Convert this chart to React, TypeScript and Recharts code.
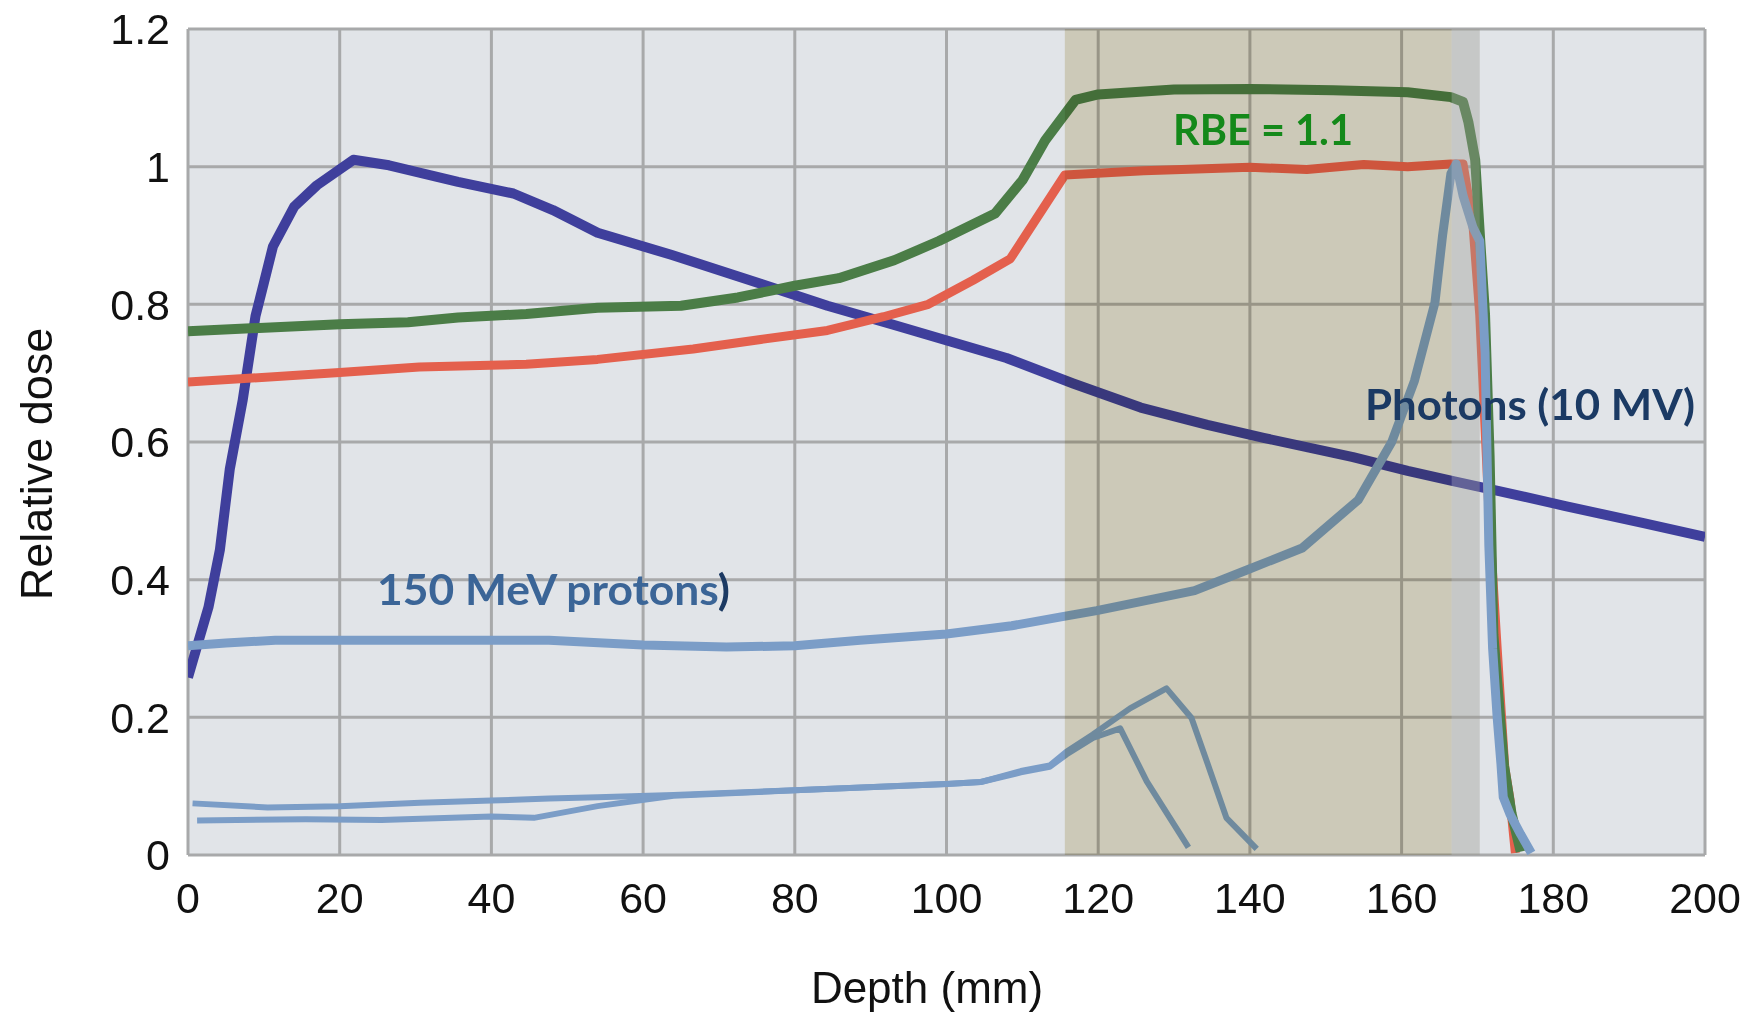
import React from "react";
import {
  LineChart,
  Line,
  XAxis,
  YAxis,
  CartesianGrid,
  ReferenceArea,
} from "recharts";

// ---------- ticks ----------
const depthTicks = [0, 20, 40, 60, 80, 100, 120, 140, 160, 180, 200];
const doseTicks = [0, 0.2, 0.4, 0.6, 0.8, 1, 1.2];

// ---------- photons (10 MV) ----------
const photonDepth = [0, 2.7, 4.2, 5.5, 7.2, 8.9, 10, 11.2, 14, 17, 21.8, 26.5, 35.6, 42.9, 48.1, 54, 63.7, 75.5, 84.3, 93.1, 100.5, 107.9, 116.7, 125.6, 134.4, 141.8, 153.6, 160.8, 166.8, 172.7, 181.6, 191.9, 200];
const photonDose = [0.258, 0.36, 0.443, 0.56, 0.66, 0.783, 0.831, 0.884, 0.942, 0.973, 1.01, 1.002, 0.978, 0.961, 0.937, 0.904, 0.872, 0.83, 0.798, 0.77, 0.746, 0.722, 0.685, 0.65, 0.625, 0.606, 0.578, 0.558, 0.543, 0.529, 0.507, 0.482, 0.462];

// ---------- protons, RBE = 1.1 (green) ----------
const rbeDepth = [0, 20, 29, 35.6, 44.6, 54, 65, 72.5, 80, 85.8, 93.1, 99, 106.4, 110, 113, 117, 120, 130, 140, 151, 160.8, 166.5, 168.1, 168.8, 169.7, 170.4, 171, 171.6, 172.1, 173.5, 174.5, 175.7];
const rbeDose = [0.761, 0.771, 0.774, 0.781, 0.786, 0.795, 0.798, 0.81, 0.827, 0.838, 0.864, 0.892, 0.932, 0.98, 1.038, 1.097, 1.105, 1.112, 1.113, 1.111, 1.108, 1.101, 1.094, 1.065, 1.01, 0.887, 0.785, 0.58, 0.32, 0.13, 0.06, 0.005];

// ---------- protons, physical dose (red) ----------
const physDepth = [0, 20, 30.5, 44.6, 54, 66.6, 75.5, 84.3, 91.7, 97.6, 103.5, 108.4, 115.6, 126, 140, 147.5, 155, 160.8, 166.5, 168.1, 169.4, 170.3, 171.6, 172.6, 173.6, 174.3, 175];
const physDose = [0.687, 0.701, 0.709, 0.713, 0.72, 0.735, 0.749, 0.762, 0.782, 0.8, 0.835, 0.866, 0.988, 0.994, 0.999, 0.996, 1.003, 1.0, 1.004, 1.004, 0.917, 0.785, 0.48, 0.3, 0.127, 0.08, 0.003];

// ---------- 150 MeV protons, SOBP-like curve (light blue) ----------
const protonDepth = [0, 5, 11.5, 20, 35, 47.6, 60, 71, 80, 88.6, 100, 108.6, 115.1, 119.8, 132.7, 139.6, 146.9, 154.3, 158.7, 161.7, 164.4, 165.4, 166.5, 167.2, 168.1, 169.4, 170.3, 171, 171.5, 172, 172.6, 173.1, 173.4, 174.3, 175.7, 177.1];
const protonDose = [0.304, 0.308, 0.312, 0.312, 0.312, 0.312, 0.305, 0.302, 0.304, 0.312, 0.321, 0.333, 0.346, 0.355, 0.384, 0.414, 0.446, 0.516, 0.6, 0.689, 0.803, 0.9, 0.99, 1.004, 0.958, 0.912, 0.892, 0.73, 0.45, 0.3, 0.2, 0.132, 0.084, 0.059, 0.03, 0.003];

// ---------- single Bragg peaks (thin light blue) ----------
const peakADepth = [0.6, 10.5, 20, 30.6, 40, 47.6, 54, 64, 80, 100, 104.5, 109.8, 113.6, 115.8, 119.3, 124.2, 129, 132.3, 134.7, 136.9, 140.9];
const peakADose = [0.075, 0.069, 0.071, 0.076, 0.079, 0.082, 0.084, 0.087, 0.094, 0.103, 0.106, 0.122, 0.13, 0.15, 0.175, 0.213, 0.242, 0.199, 0.124, 0.054, 0.009];
const peakBDepth = [1.2, 15.5, 25.5, 40, 45.6, 54, 64, 80, 100, 104.5, 109.8, 113.6, 115.8, 119.3, 122.9, 126.4, 131.9];
const peakBDose = [0.05, 0.052, 0.051, 0.056, 0.054, 0.071, 0.086, 0.094, 0.103, 0.106, 0.12, 0.128, 0.146, 0.17, 0.184, 0.107, 0.011];

// ---------- shaded ranges ----------
const targetRange = [115.6, 166.6];
const edgeRange = [166.6, 170.3];

const toPoints = (xs: number[], ys: number[]) =>
  xs.map((x, i) => ({ depth: x, dose: ys[i] }));

const tickStyle = { fontFamily: "'Liberation Sans', Arial, sans-serif", fontSize: 43, fill: "#111" };

export default function App() {
  return (
    <div style={{ position: "absolute", left: 0, top: 0, width: 1753, height: 1015, background: "#fff" }}>
      <style>{`.tan-band .recharts-reference-area-rect{mix-blend-mode:multiply;}`}</style>
      <LineChart
        width={1753}
        height={1015}
        margin={{ top: 29, right: 48, bottom: 100, left: 88 }}
      >
        <CartesianGrid
          stroke="#a8a9aa"
          strokeWidth={3}
          fill="#e1e4e8"
          fillOpacity={1}
          horizontalValues={doseTicks}
          verticalValues={depthTicks}
        />
        <XAxis
          dataKey="depth"
          type="number"
          domain={[0, 200]}
          ticks={depthTicks}
          allowDataOverflow
          axisLine={false}
          tickLine={false}
          tickSize={0}
          tickMargin={27}
          height={60}
          tick={tickStyle}
          interval={0}
        />
        <YAxis
          type="number"
          domain={[0, 1.2]}
          ticks={doseTicks}
          allowDataOverflow
          axisLine={false}
          tickLine={false}
          tickSize={0}
          tickMargin={18}
          width={100}
          tick={tickStyle}
          interval={0}
        />
        <Line data={toPoints(photonDepth, photonDose)} dataKey="dose" type="linear" dot={false} activeDot={false} stroke="#3f3f9c" strokeWidth={10} strokeLinejoin="round" isAnimationActive={false} />
        <Line data={toPoints(physDepth, physDose)} dataKey="dose" type="linear" dot={false} activeDot={false} stroke="#e4604d" strokeWidth={9} strokeLinejoin="round" isAnimationActive={false} />
        <Line data={toPoints(rbeDepth, rbeDose)} dataKey="dose" type="linear" dot={false} activeDot={false} stroke="#4b7d47" strokeWidth={10} strokeLinejoin="round" isAnimationActive={false} />
        <Line data={toPoints(peakBDepth, peakBDose)} dataKey="dose" type="linear" dot={false} activeDot={false} stroke="#7b9dc7" strokeWidth={6} strokeLinejoin="round" isAnimationActive={false} />
        <Line data={toPoints(peakADepth, peakADose)} dataKey="dose" type="linear" dot={false} activeDot={false} stroke="#7b9dc7" strokeWidth={6} strokeLinejoin="round" isAnimationActive={false} />
        <Line data={toPoints(protonDepth, protonDose)} dataKey="dose" type="linear" dot={false} activeDot={false} stroke="#7b9dc7" strokeWidth={9} strokeLinejoin="round" isAnimationActive={false} />
        <ReferenceArea
          className="tan-band"
          x1={targetRange[0]}
          x2={targetRange[1]}
          y1={0}
          y2={1.2}
          fill="#e7e1ca"
          fillOpacity={1}
          stroke="none"
          ifOverflow="visible"
          zIndex={1000}
        />
        <ReferenceArea
          x1={edgeRange[0]}
          x2={edgeRange[1]}
          y1={0}
          y2={1.2}
          fill="#9a9a90"
          fillOpacity={0.38}
          stroke="none"
          ifOverflow="visible"
          zIndex={1001}
        />
      </LineChart>
      <svg
        width={1753}
        height={1015}
        style={{ position: "absolute", left: 0, top: 0, pointerEvents: "none" }}
      >
        <text x={927} y={1003} textAnchor="middle" fontFamily="'Liberation Sans', Arial, sans-serif" fontSize={44} fill="#111">
          Depth (mm)
        </text>
        <text x={52} y={464} textAnchor="middle" transform="rotate(-90 52 464)" fontFamily="'Liberation Sans', Arial, sans-serif" fontSize={45} fill="#111">
          Relative dose
        </text>
        <text x={1173} y={145} fontFamily="Lato, 'Open Sans', sans-serif" fontWeight="bold" fontSize={42} fill="#14891a" textLength={180} lengthAdjust="spacingAndGlyphs">
          RBE = 1.1
        </text>
        <text x={1365} y={420} fontFamily="Lato, 'Open Sans', sans-serif" fontWeight="bold" fontSize={42} fill="#1b3a64" textLength={330} lengthAdjust="spacingAndGlyphs">
          Photons (10 MV)
        </text>
        <text x={377} y={605} fontFamily="Lato, 'Open Sans', sans-serif" fontWeight="bold" fontSize={42} fill="#3b6597" textLength={353} lengthAdjust="spacingAndGlyphs">
          150 MeV protons<tspan fill="#1c3a63">)</tspan>
        </text>
      </svg>
    </div>
  );
}
